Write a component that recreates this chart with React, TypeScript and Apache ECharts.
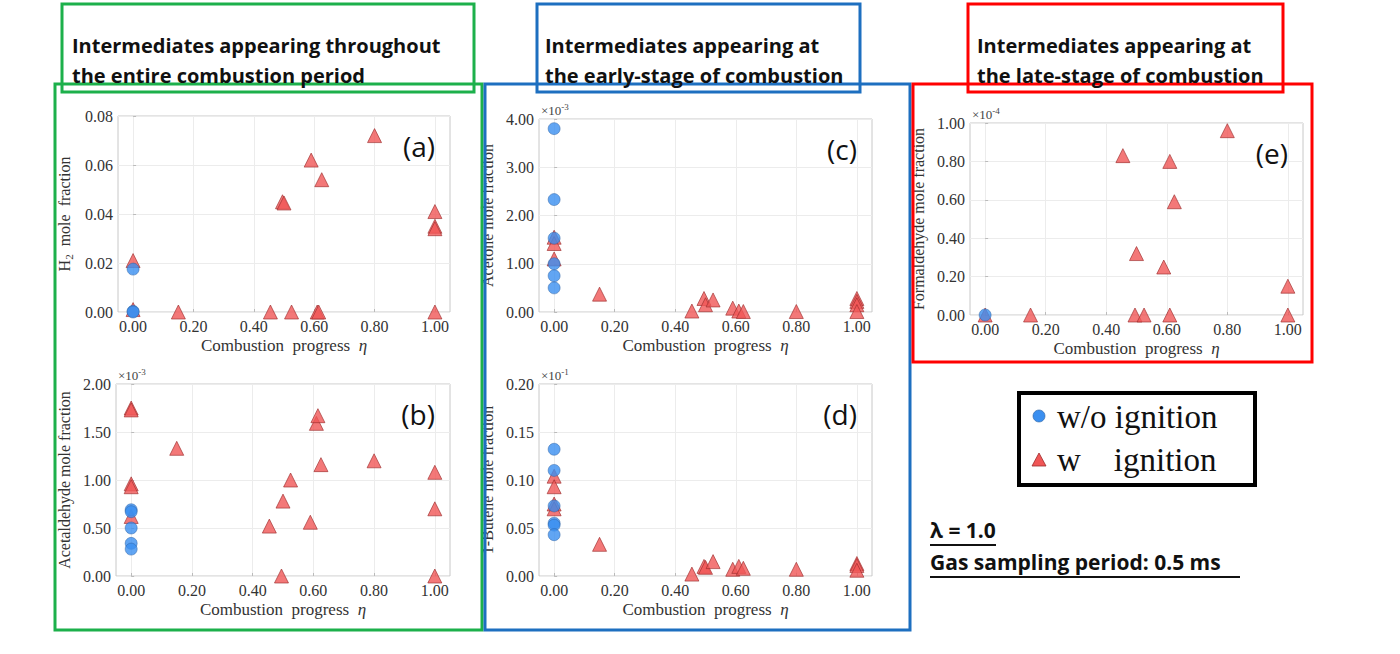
import React, { useEffect, useRef } from 'react';
import * as echarts from 'echarts';

// [eta, value] pairs; y values in the panel's displayed units
const h2Without = [[0, 0.0175], [0, 0.0003], [0, 0]];
const h2With = [[0, 0.021], [0, 0.001], [0.15, 0], [0.455, 0], [0.495, 0.045], [0.5, 0.0445], [0.525, 0], [0.59, 0.062], [0.61, 0], [0.615, 0], [0.625, 0.054], [0.8, 0.072], [1.0, 0.041], [1.0, 0.035], [1.0, 0.034], [1.0, 0]];
const acetaldehydeWithout = [[0, 0.69], [0, 0.67], [0, 0.5], [0, 0.34], [0, 0.28]];
const acetaldehydeWith = [[0, 1.75], [0, 1.73], [0, 0.96], [0, 0.93], [0, 0.62], [0.15, 1.33], [0.455, 0.52], [0.495, 0], [0.5, 0.78], [0.525, 1.0], [0.59, 0.56], [0.61, 1.59], [0.615, 1.67], [0.625, 1.16], [0.8, 1.2], [1.0, 1.08], [1.0, 0.7], [1.0, 0]];
const acetoneWithout = [[0, 3.8], [0, 2.33], [0, 1.53], [0, 1.0], [0, 0.75], [0, 0.5]];
const acetoneWith = [[0, 1.55], [0, 1.42], [0, 1.1], [0.15, 0.37], [0.455, 0.02], [0.495, 0.28], [0.5, 0.15], [0.525, 0.25], [0.59, 0.08], [0.61, 0.02], [0.625, 0.01], [0.8, 0.01], [1.0, 0.28], [1.0, 0.22], [1.0, 0.15], [1.0, 0.01]];
const buteneWithout = [[0, 0.132], [0, 0.11], [0, 0.073], [0, 0.055], [0, 0.053], [0, 0.043]];
const buteneWith = [[0, 0.104], [0, 0.093], [0, 0.075], [0, 0.07], [0.15, 0.033], [0.455, 0.002], [0.495, 0.01], [0.5, 0.009], [0.525, 0.015], [0.59, 0.007], [0.61, 0.01], [0.625, 0.008], [0.8, 0.007], [1.0, 0.013], [1.0, 0.011], [1.0, 0.006]];
const formaldehydeWithout = [[0, 0]];
const formaldehydeWith = [[0, 0], [0.15, 0], [0.455, 0.83], [0.495, 0], [0.5, 0.32], [0.525, 0], [0.59, 0.25], [0.61, 0.8], [0.61, 0], [0.625, 0.59], [0.8, 0.96], [1.0, 0.15], [1.0, 0]];

const xTicks = [0, 0.2, 0.4, 0.6, 0.8, 1.0];

const SERIF = '"Liberation Serif", "DejaVu Serif", serif';
const SANS = '"Open Sans", "Noto Sans", sans-serif';

type Panel = {
  left: number; top: number; width: number; height: number;
  yMax: number; yStep: number; yName: string; exp: string | null; tag: string;
  without: number[][]; withIgn: number[][];
};

const panels: Panel[] = [
  { left: 118, top: 116, width: 332, height: 196, yMax: 0.08, yStep: 0.02, yName: 'H{sub|2}  mole  fraction', exp: null, tag: '(a)', without: h2Without, withIgn: h2With },
  { left: 116, top: 384, width: 334, height: 192, yMax: 2, yStep: 0.5, yName: 'Acetaldehyde mole fraction', exp: '-3', tag: '(b)', without: acetaldehydeWithout, withIgn: acetaldehydeWith },
  { left: 539, top: 119, width: 333, height: 193, yMax: 4, yStep: 1, yName: 'Acetone mole fraction', exp: '-3', tag: '(c)', without: acetoneWithout, withIgn: acetoneWith },
  { left: 539, top: 384, width: 333, height: 192, yMax: 0.2, yStep: 0.05, yName: '1-Butene mole fraction', exp: '-1', tag: '(d)', without: buteneWithout, withIgn: buteneWith },
  { left: 970, top: 123, width: 333, height: 192, yMax: 1, yStep: 0.2, yName: 'Formaldehyde mole fraction', exp: '-4', tag: '(e)', without: formaldehydeWithout, withIgn: formaldehydeWith },
];

const box = (x: number, y: number, w: number, h: number, color: string, lw = 3) => ({
  type: 'rect', shape: { x, y, width: w, height: h }, style: { fill: 'transparent', stroke: color, lineWidth: lw }, z: 10,
});
const title = (x: number, y: number, text: string) => ({
  type: 'text', x, y, style: { text, fontFamily: SANS, fontSize: 20, fontWeight: 'bold', fill: '#111', verticalAlign: 'middle' }, z: 11,
});

export default function App() {
  const ref = useRef<HTMLDivElement>(null);

  useEffect(() => {
    document.body.style.margin = '0';
    if (!ref.current) return;
    const chart = echarts.init(ref.current, null, { renderer: 'svg' });

    const grid: any[] = [];
    const xAxis: any[] = [];
    const yAxis: any[] = [];
    const series: any[] = [];
    const graphic: any[] = [];

    panels.forEach((p, i) => {
      grid.push({ left: p.left, top: p.top, width: p.width, height: p.height, show: true, borderColor: '#c8c8c8', borderWidth: 1, backgroundColor: '#fff' });
      xAxis.push({
        type: 'value', gridIndex: i, min: -0.05, max: 1.05,
        name: 'Combustion  progress  {it|η}', nameLocation: 'middle', nameGap: 25,
        nameTextStyle: { fontFamily: SERIF, fontSize: 17, color: '#333', rich: { it: { fontFamily: SERIF, fontStyle: 'italic', fontSize: 17, color: '#333' } } },
        axisLine: { show: false },
        axisTick: { show: true, customValues: xTicks, inside: true, length: 3, lineStyle: { color: '#bbb' } },
        axisLabel: { customValues: xTicks, formatter: (v: number) => v.toFixed(2), fontFamily: SERIF, fontSize: 16, color: '#333', margin: 6 },
        splitLine: { show: true, lineStyle: { color: '#ececec' } },
      });
      yAxis.push({
        type: 'value', gridIndex: i, min: 0, max: p.yMax, interval: p.yStep,
        name: p.yName, nameLocation: 'middle', nameGap: 44,
        nameTextStyle: { fontFamily: SERIF, fontSize: 16, color: '#333', rich: { sub: { fontFamily: SERIF, fontSize: 11, color: '#333', verticalAlign: 'bottom', padding: [8, 0, 0, 0] } } },
        axisLine: { show: false },
        axisTick: { show: true, inside: true, length: 3, lineStyle: { color: '#bbb' } },
        axisLabel: { formatter: (v: number) => v.toFixed(2), fontFamily: SERIF, fontSize: 16, color: '#333', margin: 5 },
        splitLine: { show: true, lineStyle: { color: '#ececec' } },
      });
      series.push({
        type: 'scatter', xAxisIndex: i, yAxisIndex: i, data: p.withIgn, symbol: 'triangle', symbolSize: 14,
        itemStyle: { color: '#f05656', borderColor: '#9a2b2b', borderWidth: 0.8 }, z: 3,
      });
      series.push({
        type: 'scatter', xAxisIndex: i, yAxisIndex: i, data: p.without, symbol: 'circle', symbolSize: 12,
        itemStyle: { color: '#3a8ff0', borderColor: '#2a5fa0', borderWidth: 0.6 }, z: 4,
      });
      graphic.push({ type: 'text', x: p.left + p.width - 15, y: p.top + 30, style: { text: p.tag, fontFamily: SANS, fontSize: 28, fill: '#111', align: 'right', verticalAlign: 'middle' }, z: 11 });
      if (p.exp) {
        graphic.push({
          type: 'text', x: p.left + 2, y: p.top - 9,
          style: { text: '×10{sup|' + p.exp + '}', fontFamily: SERIF, fontSize: 13, fill: '#444', verticalAlign: 'middle', rich: { sup: { fontFamily: SERIF, fontSize: 9, fill: '#444', padding: [0, 0, 7, 0] } } }, z: 11,
        });
      }
    });

    graphic.push(
      box(55, 84, 427, 546, '#1cb04b'), box(62, 4, 412, 88, '#1cb04b'),
      box(485, 84, 425, 546, '#1d6fc0'), box(537, 4, 323, 88, '#1d6fc0'),
      box(913, 84, 399, 278, '#ff0000'), box(968, 4, 315, 88, '#ff0000'),
      { type: 'rect', shape: { x: 62, y: 4, width: 412, height: 88 }, style: { fill: '#fff' }, z: 9 },
      { type: 'rect', shape: { x: 537, y: 4, width: 323, height: 88 }, style: { fill: '#fff' }, z: 9 },
      { type: 'rect', shape: { x: 968, y: 4, width: 315, height: 88 }, style: { fill: '#fff' }, z: 9 },
      title(72, 45, 'Intermediates appearing throughout'), title(72, 75, 'the entire combustion period'),
      title(545, 45, 'Intermediates appearing at'), title(545, 75, 'the early-stage of combustion'),
      title(977, 45, 'Intermediates appearing at'), title(977, 75, 'the late-stage of combustion'),
      box(1019, 393, 236, 92, '#000', 4),
      { type: 'circle', shape: { cx: 1039, cy: 416, r: 6 }, style: { fill: '#3a8ff0', stroke: '#2a5fa0', lineWidth: 0.6 }, z: 11 },
      { type: 'polygon', shape: { points: [[1039, 453], [1046, 466], [1032, 466]] }, style: { fill: '#f05656', stroke: '#9a2b2b', lineWidth: 0.8 }, z: 11 },
      { type: 'text', x: 1057, y: 417, style: { text: 'w/o ignition', fontFamily: SERIF, fontSize: 33, fill: '#111', verticalAlign: 'middle' }, z: 11 },
      { type: 'text', x: 1057, y: 460, style: { text: 'w    ignition', fontFamily: SERIF, fontSize: 33, fill: '#111', verticalAlign: 'middle' }, z: 11 },
      { type: 'text', x: 930, y: 530, style: { text: 'λ = 1.0', fontFamily: SANS, fontSize: 21, fontWeight: 'bold', fill: '#111', verticalAlign: 'middle' }, z: 11 },
      { type: 'line', shape: { x1: 930, y1: 545, x2: 996, y2: 545 }, style: { stroke: '#111', lineWidth: 2 }, z: 11 },
      { type: 'text', x: 930, y: 562, style: { text: 'Gas sampling period: 0.5 ms', fontFamily: SANS, fontSize: 21, fontWeight: 'bold', fill: '#111', verticalAlign: 'middle' }, z: 11 },
      { type: 'line', shape: { x1: 930, y1: 577, x2: 1240, y2: 577 }, style: { stroke: '#111', lineWidth: 2 }, z: 11 },
    );

    chart.setOption({ animation: false, backgroundColor: '#fff', grid, xAxis, yAxis, series, graphic });
    return () => chart.dispose();
  }, []);

  return <div ref={ref} style={{ width: 1400, height: 654 }} />;
}
